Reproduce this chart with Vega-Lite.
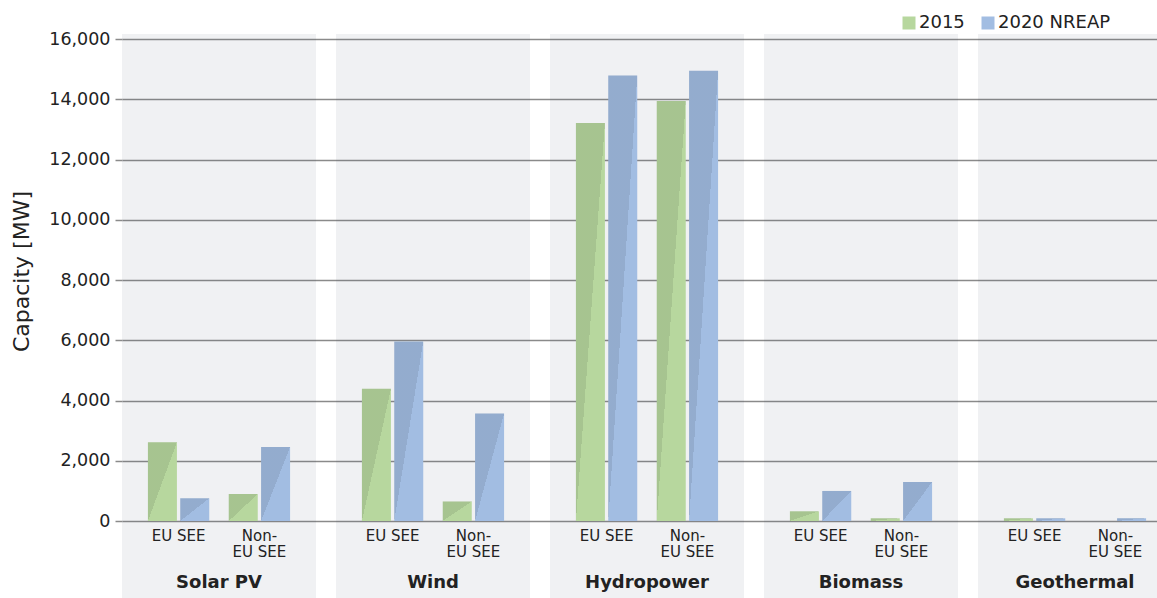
{
  "$schema": "https://vega.github.io/schema/vega-lite/v6.json",
  "width": 1035,
  "height": 564,
  "autosize": {"type": "none"},
  "padding": {"left": 122, "top": 34, "right": 0, "bottom": 0},
  "background": "white",
  "config": {
    "view": {"stroke": null},
    "font": "DejaVu Sans",
    "axis": {"labelFont": "DejaVu Sans", "titleFont": "DejaVu Sans"},
    "legend": {"labelFont": "DejaVu Sans"}
  },
  "data": {
    "values": [
      {"category": "Solar PV", "region": "EU SEE", "series": "2015", "value": 2615},
      {"category": "Solar PV", "region": "EU SEE", "series": "2020 NREAP", "value": 755},
      {"category": "Solar PV", "region": "Non-EU SEE", "series": "2015", "value": 897},
      {"category": "Solar PV", "region": "Non-EU SEE", "series": "2020 NREAP", "value": 2458},
      {"category": "Wind", "region": "EU SEE", "series": "2015", "value": 4390},
      {"category": "Wind", "region": "EU SEE", "series": "2020 NREAP", "value": 5960},
      {"category": "Wind", "region": "Non-EU SEE", "series": "2015", "value": 648},
      {"category": "Wind", "region": "Non-EU SEE", "series": "2020 NREAP", "value": 3570},
      {"category": "Hydropower", "region": "EU SEE", "series": "2015", "value": 13210},
      {"category": "Hydropower", "region": "EU SEE", "series": "2020 NREAP", "value": 14787},
      {"category": "Hydropower", "region": "Non-EU SEE", "series": "2015", "value": 13945},
      {"category": "Hydropower", "region": "Non-EU SEE", "series": "2020 NREAP", "value": 14943},
      {"category": "Biomass", "region": "EU SEE", "series": "2015", "value": 322},
      {"category": "Biomass", "region": "EU SEE", "series": "2020 NREAP", "value": 997},
      {"category": "Biomass", "region": "Non-EU SEE", "series": "2015", "value": 90},
      {"category": "Biomass", "region": "Non-EU SEE", "series": "2020 NREAP", "value": 1295},
      {"category": "Geothermal", "region": "EU SEE", "series": "2015", "value": 90},
      {"category": "Geothermal", "region": "EU SEE", "series": "2020 NREAP", "value": 90},
      {"category": "Geothermal", "region": "Non-EU SEE", "series": "2015", "value": 0},
      {"category": "Geothermal", "region": "Non-EU SEE", "series": "2020 NREAP", "value": 90}
    ]
  },
  "encoding": {
    "x": {
      "field": "category",
      "type": "nominal",
      "scale": {"domain": ["Solar PV", "Wind", "Hydropower", "Biomass", "Geothermal"], "paddingInner": 0.09346, "paddingOuter": 0, "rangeMax": 1050},
      "axis": null
    }
  },
  "layer": [
    {
      "transform": [{"aggregate": [{"op": "count", "as": "n"}], "groupby": ["category"]}],
      "mark": {"type": "bar", "fill": "#3c4a64", "fillOpacity": 0.08, "stroke": null},
      "encoding": {
        "y": {
          "datum": 16166,
          "type": "quantitative",
          "scale": {"domain": [-2556, 16166], "nice": false, "zero": false},
          "axis": {
            "values": [0, 2000, 4000, 6000, 8000, 10000, 12000, 14000, 16000],
            "format": ",d",
            "domain": false,
            "title": "Capacity [MW]",
            "titleFontSize": 22,
            "titleFontWeight": 500,
            "titleColor": "#222222",
            "titleX": -89,
            "titleY": 237,
            "labelFontSize": 17.5,
            "labelColor": "#222222",
            "labelPadding": 5,
            "tickSize": 7,
            "tickColor": "#8a8a8a",
            "tickWidth": 1.5,
            "grid": true,
            "gridColor": "#8a8a8a",
            "gridWidth": 1.5
          }
        },
        "y2": {"datum": -2556}
      }
    },
    {
      "transform": [{"calculate": "datum.region + '|' + datum.series", "as": "slot"}],
      "mark": {"type": "bar", "width": 29},
      "encoding": {
        "xOffset": {
          "field": "slot",
          "type": "nominal",
          "scale": {
            "domain": ["pad1", "pad2", "EU SEE|2015", "EU SEE", "EU SEE|2020 NREAP", "gap1", "gap2", "Non-EU SEE|2015", "Non-EU SEE", "Non-EU SEE|2020 NREAP", "pad3", "pad4"],
            "paddingInner": 0,
            "paddingOuter": 0
          }
        },
        "y": {"field": "value", "type": "quantitative"},
        "y2": {"datum": 0},
        "color": {
          "field": "series",
          "type": "nominal",
          "scale": {"domain": ["2015", "2020 NREAP"], "range": ["#b7d79e", "#a2bde2"]},
          "legend": {
            "title": null,
            "orient": "none",
            "direction": "horizontal",
            "legendX": 778,
            "legendY": -20,
            "symbolType": "square",
            "symbolSize": 169,
            "symbolStrokeWidth": 0,
            "symbolOpacity": 1,
            "labelFontSize": 18,
            "labelColor": "#222222",
            "labelOffset": 1,
            "columnPadding": 14
          }
        }
      }
    },
    {
      "transform": [{"calculate": "datum.region + '|' + datum.series", "as": "slot"}],
      "mark": {"type": "bar", "width": 29,
        "color": {"gradient": "linear", "x1": 0, "y1": 0, "x2": 1, "y2": 1,
          "stops": [{"offset": 0, "color": "rgba(0,0,0,0.09)"}, {"offset": 0.5, "color": "rgba(0,0,0,0.09)"}, {"offset": 0.5, "color": "rgba(0,0,0,0)"}, {"offset": 1, "color": "rgba(0,0,0,0)"}]}},
      "encoding": {
        "xOffset": {"field": "slot", "type": "nominal"},
        "y": {"field": "value", "type": "quantitative"},
        "y2": {"datum": 0}
      }
    },
    {
      "transform": [
        {"aggregate": [{"op": "count", "as": "n"}], "groupby": ["category", "region"]},
        {"calculate": "replace(datum.region, 'Non-', 'Non-\\n')", "as": "label"}
      ],
      "mark": {"type": "text", "baseline": "top", "align": "center", "dy": 8, "fontSize": 15, "lineBreak": "\n", "lineHeight": 16, "color": "#222222"},
      "encoding": {
        "xOffset": {"field": "region", "type": "nominal"},
        "y": {"datum": 0, "type": "quantitative"},
        "text": {"field": "label", "type": "nominal"}
      }
    },
    {
      "transform": [{"aggregate": [{"op": "count", "as": "n"}], "groupby": ["category"]}],
      "mark": {"type": "text", "baseline": "middle", "align": "center", "dy": 62, "fontSize": 18, "fontWeight": "bold", "color": "#222222"},
      "encoding": {
        "y": {"datum": 0, "type": "quantitative"},
        "text": {"field": "category", "type": "nominal"}
      }
    }
  ]
}
